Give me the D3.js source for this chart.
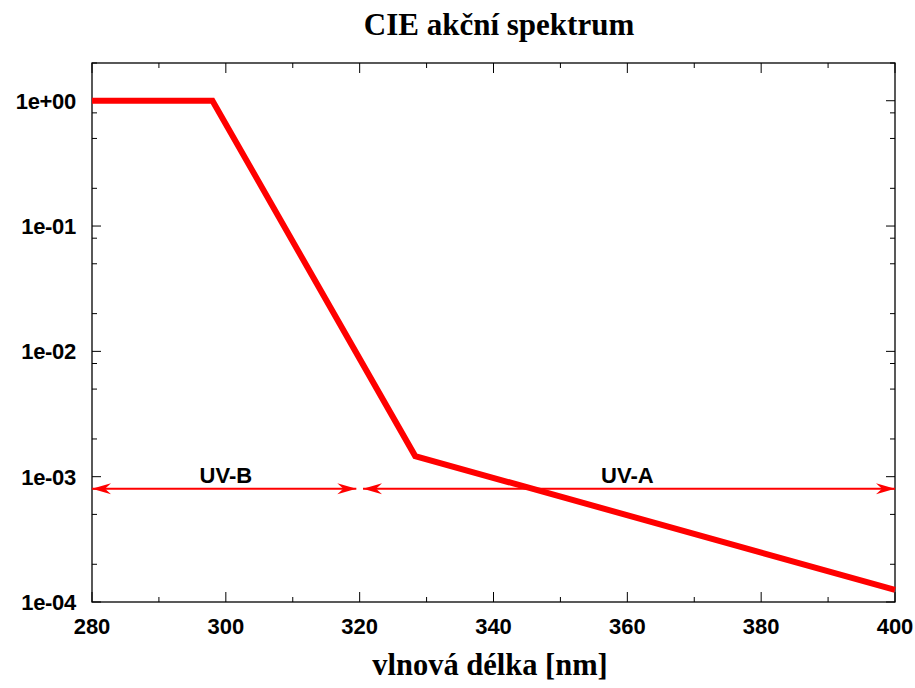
<!DOCTYPE html>
<html><head><meta charset="utf-8">
<script src="https://cdn.jsdelivr.net/npm/d3@7"></script>
<style>body{margin:0;background:#fff}</style>
</head><body>
<svg id="c" width="915" height="688"></svg>
<script>
// Data
const wavelength = [280, 298, 328.3, 400];
const action = [1, 1, 0.00146, 0.000125];
const xTicks = [280, 300, 320, 340, 360, 380, 400];
const xMinor = [290, 310, 330, 350, 370, 390];
const yTicks = [1, 0.1, 0.01, 0.001, 0.0001];
const yTickLabels = ["1e+00", "1e-01", "1e-02", "1e-03", "1e-04"];
const bandNames = ["UV-B", "UV-A"];
const bandStart = [280, 320.5];
const bandEnd = [319.5, 400];
const bandLevel = 0.0008;
const bandLabelX = [300, 360];

const svg = d3.select("#c");
const L = 92, R = 895, T = 63, B = 602;
const x = d3.scaleLinear().domain([280, 400]).range([L, R]);
const y = d3.scaleLog().domain([0.0001, 2]).range([B, T]);

// minor y ticks
const yMinor = [];
[0.0001, 0.001, 0.01, 0.1, 1].forEach(d => [2, 5, 8].forEach(m => { if (d * m <= 2) yMinor.push(d * m); }));

// axes
const g = svg.append("g");
g.append("rect").attr("x", L).attr("y", T).attr("width", R - L).attr("height", B - T)
  .attr("fill", "none").attr("stroke", "#000").attr("stroke-width", 1.3);

const tick = (x1, y1, x2, y2) => g.append("line").attr("x1", x1).attr("y1", y1).attr("x2", x2).attr("y2", y2)
  .attr("stroke", "#000").attr("stroke-width", 1);

xTicks.forEach(v => { tick(x(v), B, x(v), B - 10); tick(x(v), T, x(v), T + 10); });
xMinor.forEach(v => { tick(x(v), B, x(v), B - 5); tick(x(v), T, x(v), T + 5); });
yTicks.forEach(v => { tick(L, y(v), L + 9, y(v)); tick(R, y(v), R - 9, y(v)); });
yMinor.forEach(v => { tick(L, y(v), L + 5, y(v)); tick(R, y(v), R - 5, y(v)); });

const lblFont = "'Liberation Sans', Arial, sans-serif";
g.selectAll(".xl").data(xTicks).enter().append("text")
  .attr("x", d => x(d)).attr("y", 634).attr("text-anchor", "middle")
  .attr("font-family", lblFont).attr("font-weight", "bold").attr("font-size", 22)
  .text(d => d);
g.selectAll(".yl").data(yTicks).enter().append("text")
  .attr("x", 76).attr("y", d => y(d) + 8).attr("text-anchor", "end")
  .attr("font-family", lblFont).attr("font-weight", "bold").attr("font-size", 22)
  .attr("letter-spacing", -0.3)
  .text((d, i) => yTickLabels[i]);

// Title and x label
const serif = "'Liberation Serif', 'Times New Roman', serif";
svg.append("text").attr("x", 499).attr("y", 35).attr("text-anchor", "middle")
  .attr("font-family", serif).attr("font-weight", "bold")
  .attr("font-size", 31).text("CIE akční spektrum");
svg.append("text").attr("x", 490).attr("y", 675).attr("text-anchor", "middle")
  .attr("font-family", serif).attr("font-weight", "bold")
  .attr("font-size", 30.5).text("vlnová délka [nm]");

// band arrows
const red = "#ff0000";
const head = (tipX, yy, dir) => {
  const len = 19, hw = 5.5, notch = 13;
  const p = [[tipX, yy], [tipX - dir * len, yy - hw], [tipX - dir * notch, yy], [tipX - dir * len, yy + hw]];
  svg.append("path").attr("d", "M" + p.map(q => q.join(",")).join("L") + "Z").attr("fill", red);
};
bandNames.forEach((n, i) => {
  const yy = y(bandLevel);
  svg.append("line").attr("x1", x(bandStart[i])).attr("x2", x(bandEnd[i])).attr("y1", yy).attr("y2", yy)
    .attr("stroke", red).attr("stroke-width", 2);
  head(x(bandStart[i]), yy, -1);
  head(x(bandEnd[i]), yy, 1);
  svg.append("text").attr("x", x(bandLabelX[i])).attr("y", yy - 6)
    .attr("text-anchor", "middle").attr("font-family", lblFont).attr("font-weight", "bold")
    .attr("font-size", 22).text(n);
});

// curve
const line = d3.line().x((d, i) => x(wavelength[i])).y((d, i) => y(action[i]));
svg.append("path").datum(action).attr("d", line).attr("fill", "none")
  .attr("stroke", red).attr("stroke-width", 6).attr("stroke-linejoin", "miter");
</script>
</body></html>
